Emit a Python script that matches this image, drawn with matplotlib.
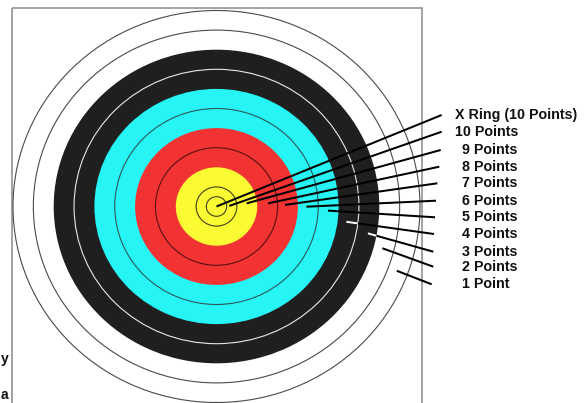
import matplotlib
matplotlib.use("Agg")
import matplotlib.pyplot as plt
from matplotlib.patches import Ellipse, Rectangle, Annulus

# ---- data ----
ring_labels = ["X Ring (10 Points)", "10 Points", "9 Points", "8 Points", "7 Points",
               "6 Points", "5 Points", "4 Points", "3 Points", "2 Points", "1 Point"]
# outer radius of each scoring zone (in ring units), matching ring_labels
ring_radii = [0.5, 1, 2, 3, 4, 5, 6, 7, 8, 9, 10]
# colour bands: (outer radius, colour)
band_radii = [10, 8, 6, 4, 2]
band_colors = ["#ffffff", "#1f1f1f", "#27f4f4", "#f23333", "#fbfb33"]
# circle lines drawn inside bands: (radius, colour)
line_radii = [10, 9, 7, 5, 3, 1, 0.5]
line_colors = ["#4a4a4a", "#4a4a4a", "#e8e8e8", "#2a5a5a", "#5a1010", "#404010", "#404010"]
# leader-line starting points, in ring units relative to the centre (x right, y down)
leader_start_x = [0.0, 0.63, 1.48, 2.54, 3.36, 4.42, 5.48, 6.38, 7.44, 8.15, 8.86]
leader_start_y = [0.0, -0.03, -0.16, -0.16, -0.08, 0.01, 0.21, 0.78, 1.37, 2.13, 3.28]
# leader-line end points / label rows (pixels)
leader_end_x = [441.7, 441.7, 440.7, 439.3, 437.3, 436.0, 435.0, 434.0, 433.3, 433.3, 431.7]
label_y = [115.0, 131.7, 150.0, 166.7, 183.3, 200.7, 217.3, 234.0, 251.7, 266.7, 284.3]
side_texts = ["y", "a"]
side_text_y = [359, 395]

# ---- geometry / style ----
cx, cy = 216.5, 206.5
sx, sy = 20.35, 19.6

fig = plt.figure(figsize=(5.86, 4.03), dpi=100)
ax = fig.add_axes([0, 0, 1, 1])
ax.set_xlim(0, 586)
ax.set_ylim(403, 0)
ax.axis("off")

# frame
ax.add_patch(Rectangle((12, 8.3), 410, 420, fill=False, edgecolor="#8a8a8a", lw=1.1, zorder=1))

# colour bands
for r, c in zip(band_radii, band_colors):
    ax.add_patch(Ellipse((cx, cy), 2 * r * sx, 2 * r * sy, facecolor=c, edgecolor="none", zorder=2))

# ring lines
for r, c in zip(line_radii, line_colors):
    ax.add_patch(Ellipse((cx, cy), 2 * r * sx, 2 * r * sy, facecolor="none", edgecolor=c,
                         lw=0.8, zorder=3))

# leader lines and labels
for i, lab in enumerate(ring_labels):
    x0 = cx + leader_start_x[i] * sx
    y0 = cy + leader_start_y[i] * sy
    x1 = leader_end_x[i]
    y1 = label_y[i]
    ax.plot([x0, x1], [y0, y1], color="black", lw=1.45, solid_capstyle="butt", zorder=4)
    # inside the black band the leader shows in white within its own zone
    r_out = ring_radii[i]
    if 6 < r_out <= 8:
        clip = Annulus((cx, cy), (r_out * sx, r_out * sy), 1 * min(sx, sy) * 0.999,
                       transform=ax.transData)
        ln, = ax.plot([x0, x1], [y0, y1], color="white", lw=1.45, solid_capstyle="butt", zorder=5)
        ln.set_clip_path(clip)
    tx = 455 if (lab.startswith("X") or lab.startswith("10")) else 462
    ax.text(tx, y1, lab, ha="left", va="center", fontsize=10.3, fontweight="bold",
            family="Liberation Sans", color="#111111", zorder=6)

# text fragments at the left edge
for t, ty in zip(side_texts, side_text_y):
    ax.text(0.5, ty, t, ha="left", va="center", fontsize=10, fontweight="bold",
            family="Liberation Sans", color="#111111")

fig.savefig("out.png", dpi=100)
